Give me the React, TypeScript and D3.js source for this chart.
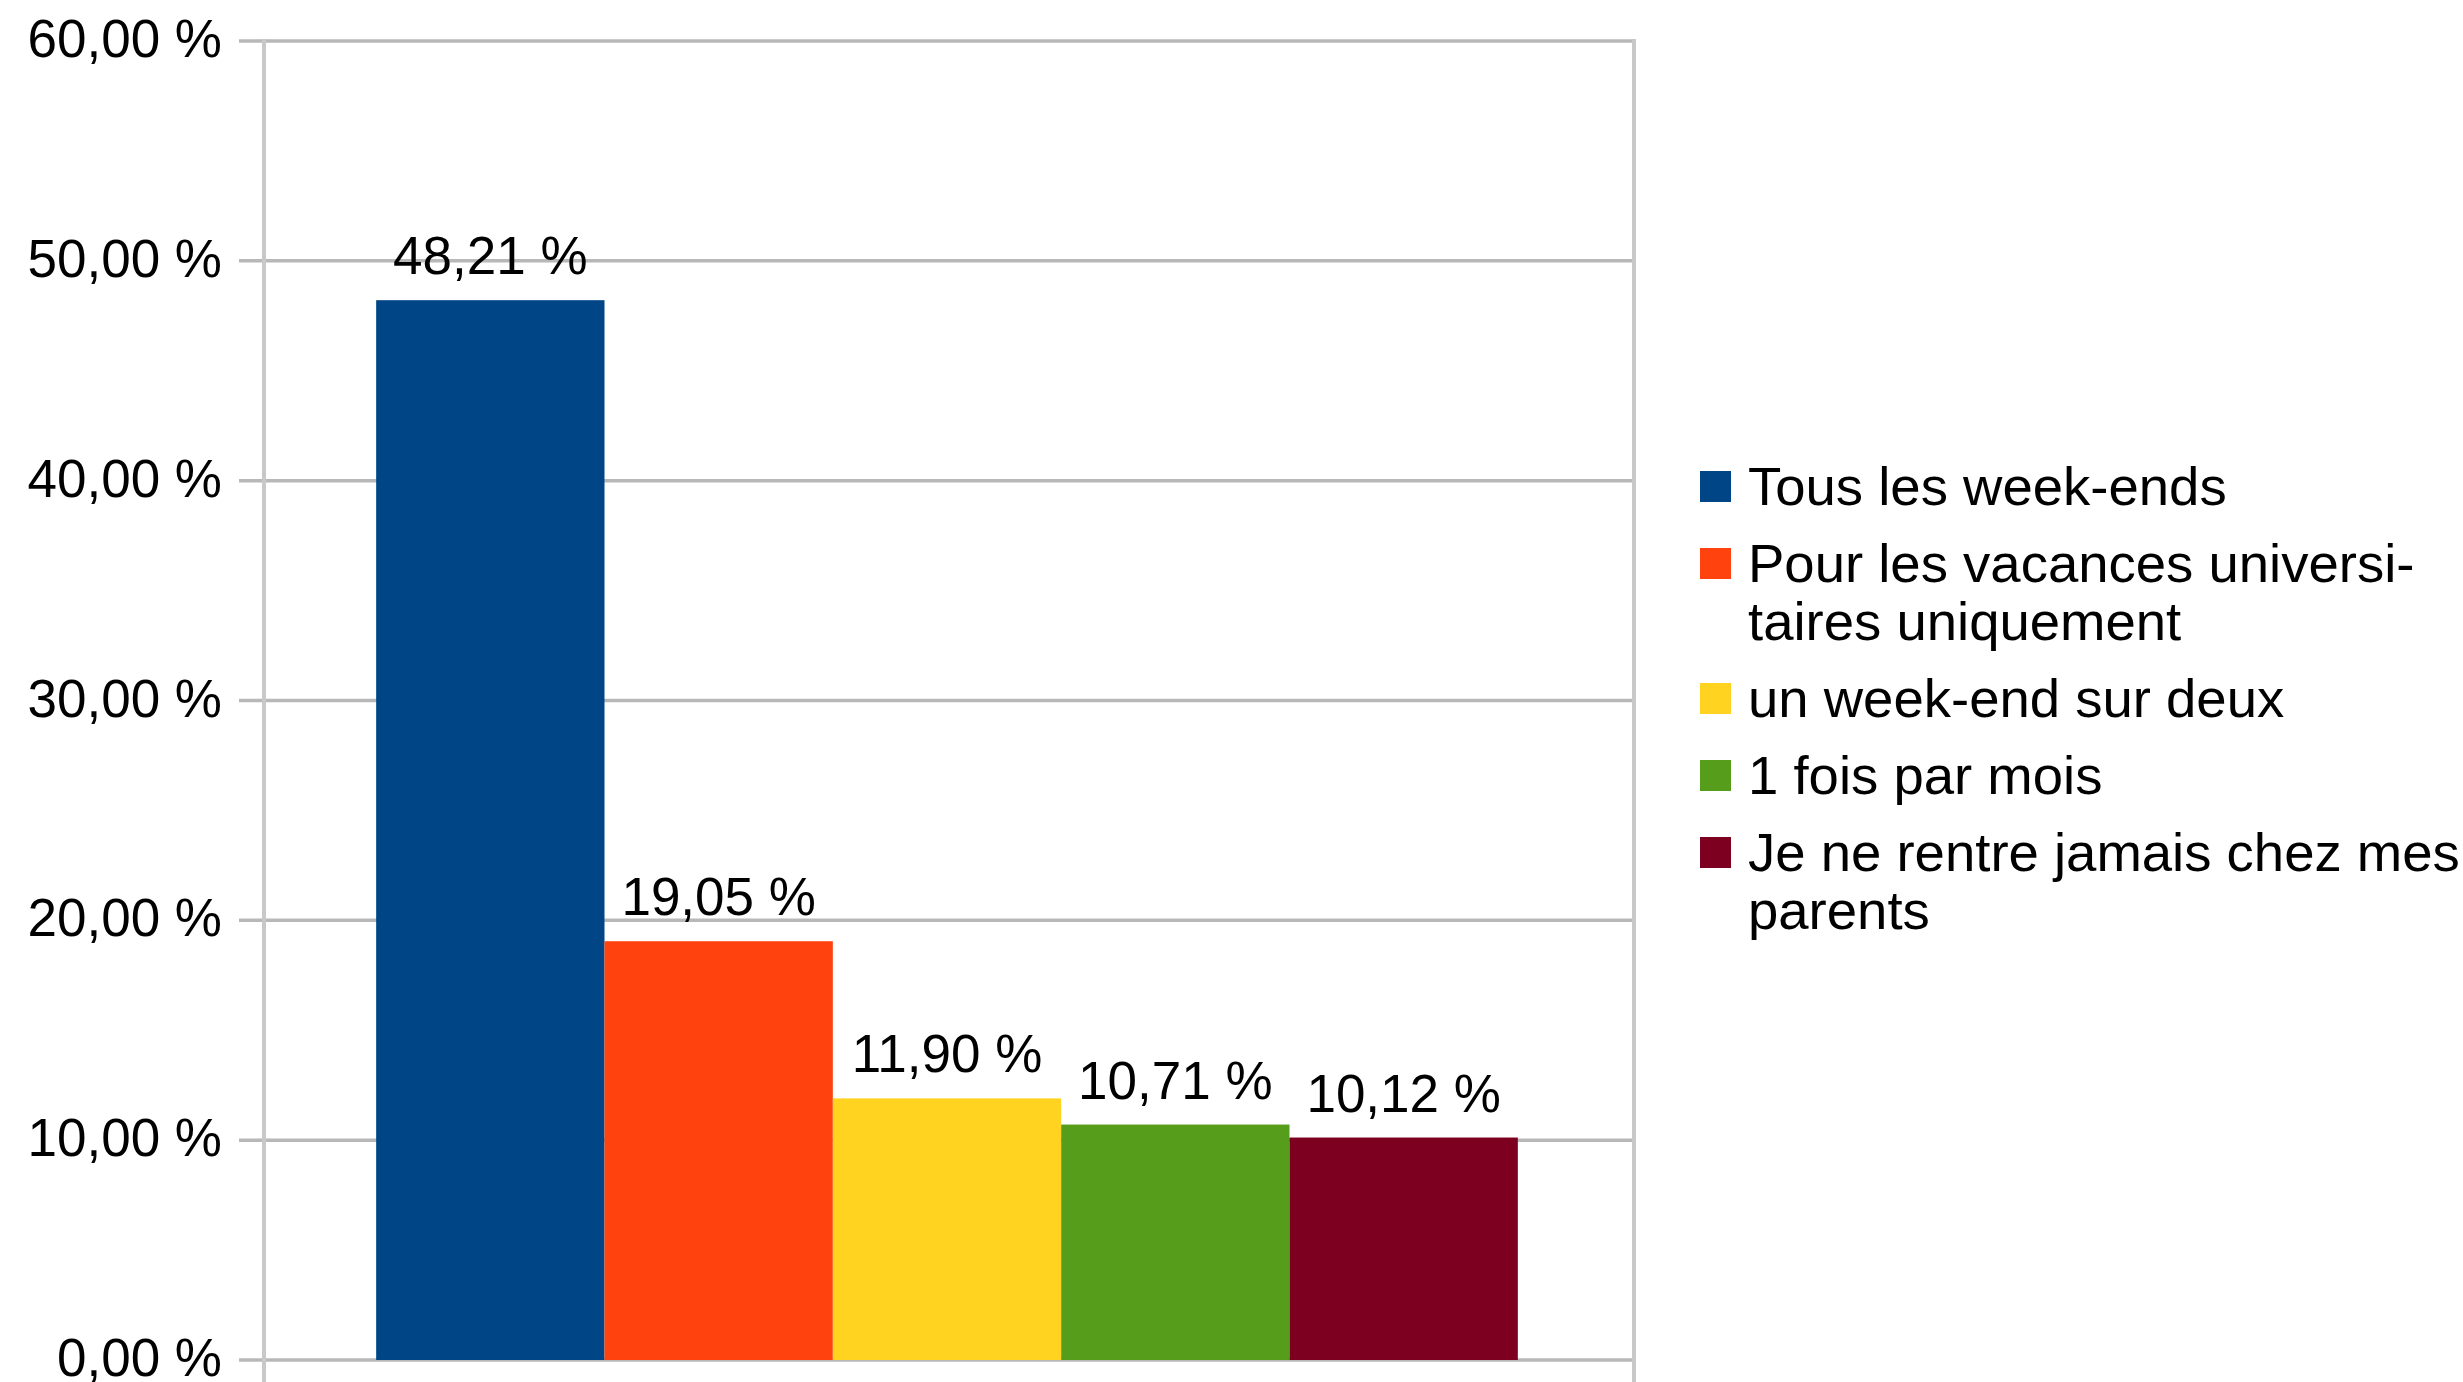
import React, { useEffect, useRef } from 'react';
import * as d3 from 'd3';

// one category, five series (LibreOffice-style column chart)
const seriesNames = [
  'Tous les week-ends',
  'Pour les vacances universitaires uniquement',
  'un week-end sur deux',
  '1 fois par mois',
  'Je ne rentre jamais chez mes parents',
];
const seriesValues = [48.21, 19.05, 11.9, 10.71, 10.12];
const seriesColors = ['#004586', '#ff420e', '#ffd320', '#579d1c', '#7e0021'];
// legend text as wrapped in the original
const legendLines = [
  ['Tous les week-ends'],
  ['Pour les vacances universi-', 'taires uniquement'],
  ['un week-end sur deux'],
  ['1 fois par mois'],
  ['Je ne rentre jamais chez mes', 'parents'],
];
const yTicks = [0, 10, 20, 30, 40, 50, 60];

export default function App() {
  const svgRef = useRef<SVGSVGElement>(null);

  useEffect(() => {
    if (!svgRef.current) return;
    const svg = d3.select(svgRef.current);
    svg.selectAll('*').remove();

    const width = 2463;
    const height = 1382;
    const plot = { left: 264, right: 1634, top: 41, bottom: 1360 };
    const font = '"Liberation Sans", Arial, sans-serif';
    const fontSize = 53;
    const legendFontSize = 54.5;

    const fr = d3.formatLocale({
      decimal: ',',
      thousands: ' ',
      grouping: [3],
      currency: ['', ' €'],
    });
    const fmt = (v: number) => `${fr.format('.2f')(v)} %`;

    svg.attr('width', width).attr('height', height);

    const y = d3.scaleLinear().domain([0, 60]).range([plot.bottom, plot.top]);
    const x = d3
      .scaleBand()
      .domain(seriesNames)
      .range([plot.left - 2, plot.right - 2])
      .paddingInner(0)
      .paddingOuter(0.5);

    // Gridlines + tick marks
    svg
      .append('g')
      .selectAll('line')
      .data(yTicks)
      .join('line')
      .attr('x1', plot.left - 25)
      .attr('x2', plot.right)
      .attr('y1', (d) => y(d))
      .attr('y2', (d) => y(d))
      .attr('stroke', '#b8b8b8')
      .attr('stroke-width', 3.5);

    // Vertical walls (extend below as category ticks)
    [plot.left, plot.right].forEach((xx) => {
      svg
        .append('line')
        .attr('x1', xx)
        .attr('x2', xx)
        .attr('y1', plot.top - 2)
        .attr('y2', height)
        .attr('stroke', '#c8c8c8')
        .attr('stroke-width', 4);
    });

    // Y tick labels
    svg
      .append('g')
      .selectAll('text')
      .data(yTicks)
      .join('text')
      .attr('x', 222)
      .attr('y', (d) => y(d) + 16)
      .attr('text-anchor', 'end')
      .attr('font-family', font)
      .attr('font-size', fontSize)
      .attr('fill', '#000')
      .text((d) => fmt(d));

    // Bars
    svg
      .append('g')
      .selectAll('rect')
      .data(seriesValues)
      .join('rect')
      .attr('x', (_, i) => x(seriesNames[i])!)
      .attr('y', (d) => y(d))
      .attr('width', x.bandwidth())
      .attr('height', (d) => y(0) - y(d))
      .attr('fill', (_, i) => seriesColors[i]);

    // Value labels
    svg
      .append('g')
      .selectAll('text')
      .data(seriesValues)
      .join('text')
      .attr('x', (_, i) => x(seriesNames[i])! + x.bandwidth() / 2)
      .attr('y', (d) => y(d) - 26)
      .attr('text-anchor', 'middle')
      .attr('font-family', font)
      .attr('font-size', fontSize)
      .attr('fill', '#000')
      .text((d) => fmt(d));

    // Legend
    const legend = svg.append('g');
    let cy = 487;
    legendLines.forEach((lines, i) => {
      legend
        .append('rect')
        .attr('x', 1700)
        .attr('y', cy - 16)
        .attr('width', 31)
        .attr('height', 31)
        .attr('fill', seriesColors[i]);
      const t = legend
        .append('text')
        .attr('font-family', font)
        .attr('font-size', legendFontSize)
        .attr('fill', '#000');
      lines.forEach((line, j) => {
        t.append('tspan')
          .attr('x', 1748)
          .attr('y', cy + 18 + j * 58)
          .text(line);
      });
      cy += 77 + (lines.length - 1) * 58;
    });
  }, []);

  return (
    <div style={{ position: 'absolute', left: 0, top: 0, background: '#fff' }}>
      <svg ref={svgRef} style={{ display: 'block' }}></svg>
    </div>
  );
}
